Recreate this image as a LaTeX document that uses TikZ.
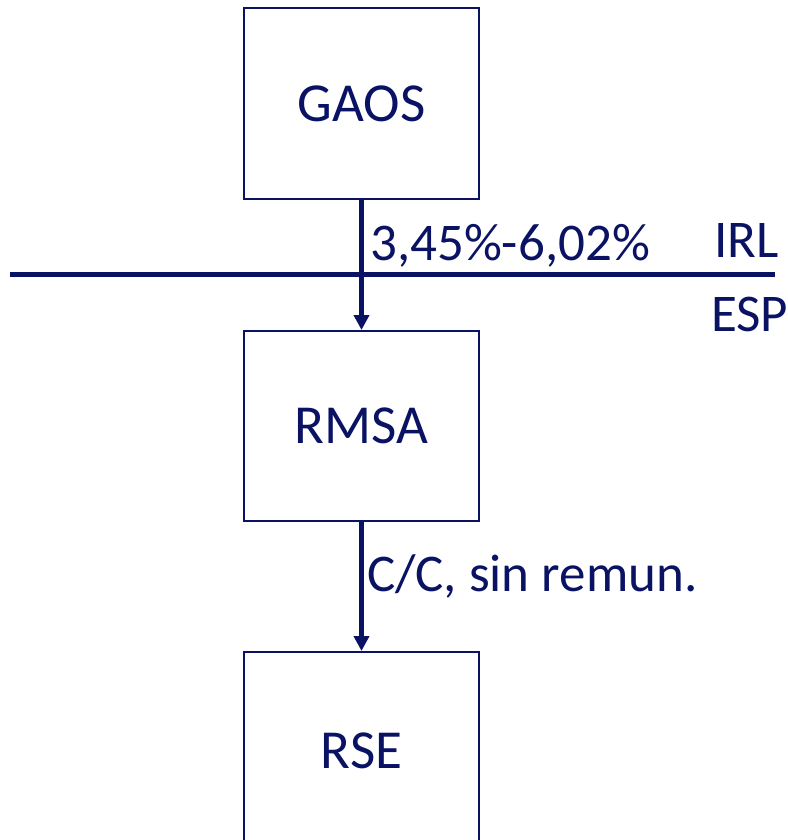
\documentclass[tikz,border=0pt]{standalone}
\usepackage{fontspec}
\setmainfont{Carlito}
\usetikzlibrary{arrows.meta}
\definecolor{navy}{RGB}{10,18,100}
\tikzset{
  entity/.style={draw=navy, line width=2pt, minimum width=235pt, inner sep=0pt,
    text=navy, font=\fontsize{55}{62}\selectfont},
  flow/.style={draw=navy, line width=4.5pt, -{Triangle[length=15pt,width=15pt]}},
  border/.style={draw=navy, line width=5pt},
  tag/.style={text=navy, anchor=base west, inner sep=0pt, font=\fontsize{53}{60}\selectfont}
}
\begin{document}
\begin{tikzpicture}[x=1pt, y=-1pt]
  \useasboundingbox (0,0) rectangle (787,840);
  \clip (0,0) rectangle (787,840);

  % companies
  \node[entity, minimum height=191pt] (gaos) at (361.5,103.5) {GAOS};
  \node[entity, minimum height=190pt] (rmsa) at (361.5,426) {RMSA};
  \node[entity, minimum height=198pt] (rse)  at (361.5,751) {RSE};

  % country border
  \coordinate (west) at (10,274.5);
  \coordinate (east) at (775,274.5);
  \draw[border] (west) -- (east);

  % flows
  \draw[flow] (gaos.south) -- (rmsa.north);
  \draw[flow] (rmsa.south) -- (rse.north);

  % labels
  \node[tag] (rate) at (370,260) {3,45\%-6,02\%};
  \node[tag] (irl)  at (714,257) {IRL};
  \node[tag] (esp)  at (711,331) {ESP};
  \node[tag] (cc)   at (367,591) {C/C, sin remun.};
\end{tikzpicture}
\end{document}
